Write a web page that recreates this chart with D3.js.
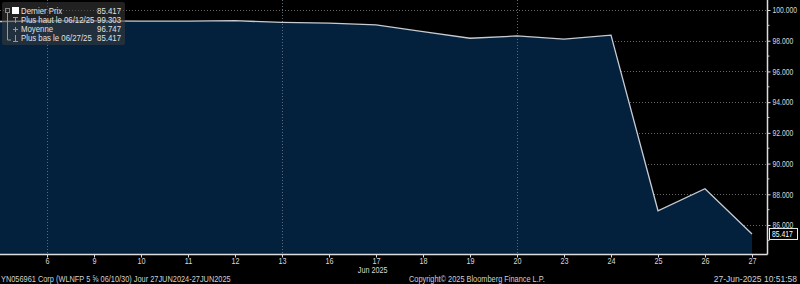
<!DOCTYPE html>
<html>
<head>
<meta charset="utf-8">
<script src="https://cdn.jsdelivr.net/npm/d3@7"></script>
<style>
  body { margin: 0; background: #000; }
  svg { display: block; font-family: "Liberation Sans", Arial, sans-serif; }
</style>
</head>
<body>
<svg width="800" height="284"></svg>
<script>
const days = ["5", "6", "9", "10", "11", "12", "13", "16", "17", "18", "19", "20", "23", "24", "25", "26", "27"];
const prices = [99.25, 99.29, 99.29, 99.28, 99.28, 99.303, 99.19, 99.14, 99.03, 98.59, 98.16, 98.31, 98.10, 98.36, 86.93, 88.36, 85.417];
const yTicks = [86, 88, 90, 92, 94, 96, 98, 100];
const yMinor = [85, 87, 89, 91, 93, 95, 97, 99];
const legendRows = [
    { label: "Dernier Prix", value: "85.417" },
    { label: "Plus haut le 06/12/25", value: "99.303" },
    { label: "Moyenne", value: "96.747" },
    { label: "Plus bas le 06/27/25", value: "85.417" }
];
const weekLines = ["6", "13", "20"];
const monthLabel = { day: "17", text: "Jun 2025" };

const svg = d3.select("svg");

const area = { left: 0, right: 767, top: 0, bottom: 254 };

// squeeze text horizontally, Bloomberg font is narrow
function condense(sel, k) {
    sel.each(function () {
        const t = d3.select(this);
        const x = +t.attr("x") || 0;
        t.attr("x", x / k).attr("transform", `scale(${k},1)`);
    });
}

const scX = d3.scaleLinear()
    .domain([0, days.length - 1])
    .range([0, 752]);

const scY = d3.scaleLinear()
    .domain([100, 86])
    .range([10, 225]);

// grid
svg.append("g")
    .selectAll("line")
    .data(yTicks)
    .enter()
    .append("line")
    .attr("x1", area.left)
    .attr("x2", area.right)
    .attr("y1", d => Math.round(scY(d)) + 0.5)
    .attr("y2", d => Math.round(scY(d)) + 0.5)
    .attr("stroke", "#666")
    .attr("stroke-dasharray", "1,2");

// area fill
const areaGen = d3.area()
    .x((d, i) => scX(i))
    .y0(area.bottom)
    .y1(d => scY(d));

svg.append("path")
    .datum(prices)
    .attr("d", areaGen)
    .attr("fill", "#03203d");

svg.append("g")
    .selectAll("line")
    .data(weekLines)
    .enter()
    .append("line")
    .attr("x1", d => Math.round(scX(days.indexOf(d))) + 0.5)
    .attr("x2", d => Math.round(scX(days.indexOf(d))) + 0.5)
    .attr("y1", 0)
    .attr("y2", area.bottom)
    .attr("stroke", "#5a6a7a")
    .attr("stroke-dasharray", "1,2");

const line = d3.line()
    .x((d, i) => scX(i))
    .y(d => scY(d));

svg.append("path")
    .datum(prices)
    .attr("d", line)
    .attr("fill", "none")
    .attr("stroke", "#c8ccd2")
    .attr("stroke-width", 1.3);

// axes
const axisX = d3.axisBottom(scX)
    .tickValues(d3.range(1, days.length))
    .tickFormat(i => days[i])
    .tickSize(3)
    .tickPadding(0);

const gx = svg.append("g")
    .attr("transform", `translate(0, ${area.bottom + 0.5})`)
    .call(axisX);
gx.select(".domain").attr("d", `M0,0H${area.right + 0.5}`);

// month under the "17" tick
gx.selectAll(".tick")
    .filter(i => days[i] === monthLabel.day)
    .append("text")
    .attr("class", "month")
    .attr("x", 11)
    .attr("y", 18.5)
    .attr("text-anchor", "end")
    .text(monthLabel.text);

const axisY = d3.axisRight(scY)
    .tickValues(yTicks)
    .tickFormat(d3.format(".3f"))
    .tickSize(3);

const gy = svg.append("g")
    .attr("transform", `translate(${area.right + 0.5}, 0)`)
    .call(axisY);
gy.select(".domain").attr("d", `M0,0V${area.bottom + 0.5}`);

gy.selectAll("line.minor")
    .data(yMinor)
    .enter()
    .append("line")
    .attr("class", "minor")
    .attr("x1", 0).attr("x2", 2)
    .attr("y1", d => scY(d)).attr("y2", d => scY(d))
    .attr("stroke", "#ccc");

[gx, gy].forEach(g => {
    g.selectAll(".domain").attr("stroke", "#ddd").attr("stroke-width", 1.5);
    g.selectAll(".tick line").attr("stroke", "#ddd");
    g.selectAll("text").attr("fill", "#d8d8d8").style("font-size", "8.5px");
});
gy.selectAll("text").attr("x", 5);
condense(gy.selectAll("text"), 0.8);
condense(gx.selectAll("text"), 0.85);

// last price label
const lastY = scY(prices[prices.length - 1]);
svg.append("rect")
    .attr("x", 769.5).attr("y", lastY - 5.5)
    .attr("width", 28).attr("height", 11)
    .attr("fill", "#000").attr("stroke", "#eee");
svg.append("text")
    .attr("x", 772).attr("y", lastY + 3)
    .attr("fill", "#fff").style("font-size", "8.5px")
    .text(prices[prices.length - 1].toFixed(3))
    .call(condense, 0.8);

// legend
const lg = svg.append("g").attr("transform", "translate(2, 2)");
lg.append("rect")
    .attr("width", 123).attr("height", 43)
    .attr("rx", 2)
    .attr("fill", "rgba(60,60,60,0.55)");
lg.append("rect")
    .attr("x", 10).attr("y", 5)
    .attr("width", 7).attr("height", 7)
    .attr("fill", "#fff");
lg.append("rect")
    .attr("x", 3.5).attr("y", 6.5)
    .attr("width", 4).attr("height", 4)
    .attr("fill", "none").attr("stroke", "#888");
lg.append("path")
    .attr("d", "M5.5,11V38H9M11,15.5H16M13.5,15.5V21M11,27.5H16M13.5,25V30M13.5,33V39M11,39.5H16")
    .attr("stroke", "#999").attr("fill", "none");
lg.selectAll("text.lab")
    .data(legendRows)
    .enter()
    .append("text")
    .attr("class", "lab")
    .attr("x", 19)
    .attr("y", (d, i) => 12 + i * 9)
    .attr("fill", "#e0e0e0").style("font-size", "8.5px")
    .text(d => d.label)
    .call(condense, 0.92);
lg.selectAll("text.val")
    .data(legendRows)
    .enter()
    .append("text")
    .attr("class", "val")
    .attr("x", 119)
    .attr("y", (d, i) => 12 + i * 9)
    .attr("text-anchor", "end")
    .attr("fill", "#e0e0e0").style("font-size", "8.5px")
    .text(d => d.value)
    .call(condense, 0.92);

// footer
const footer = svg.append("g").attr("fill", "#d0d0d0").style("font-size", "8.5px");
footer.append("text").attr("x", 1).attr("y", 282)
    .text("YN056961 Corp (WLNFP 5 ⅝ 06/10/30)  Jour 27JUN2024-27JUN2025")
    .call(condense, 0.87);
footer.append("text").attr("x", 409).attr("y", 282)
    .text("Copyright© 2025 Bloomberg Finance L.P.")
    .call(condense, 0.87);
footer.append("text").attr("x", 797).attr("y", 282).attr("text-anchor", "end")
    .text("27-Jun-2025 10:51:58");
</script>
</body>
</html>
